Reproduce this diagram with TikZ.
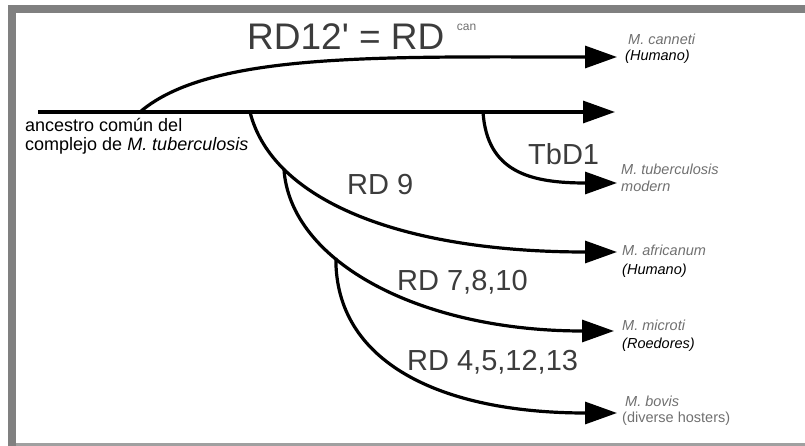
\documentclass[tikz,border=0pt]{standalone}
\usepackage{fontspec}
\setmainfont{Liberation Sans}
\usetikzlibrary{arrows.meta}
\definecolor{framegray}{RGB}{128,128,128}
\definecolor{framelight}{RGB}{160,160,160}
\definecolor{rdgray}{RGB}{60,60,60}
\definecolor{spgray}{RGB}{112,112,112}

\begin{document}
\begin{tikzpicture}[x=1pt,y=-1pt,
  lineage/.style={line width=3.2pt,-{Triangle[length=32pt,width=22pt]}},
  rdlabel/.style={font=\fontsize{29}{29}\selectfont,text=rdgray,inner sep=0pt,anchor=base west},
  species/.style={font=\fontsize{14.5}{17}\selectfont\itshape,text=spgray,inner sep=0pt,anchor=base west},
  host/.style={font=\fontsize{14.5}{17}\selectfont\itshape,inner sep=0pt,anchor=base west}]
  \useasboundingbox (0,0) rectangle (805,446);
  % Branch points and arrow tips
  \coordinate (root) at (38,112);
  \coordinate (forkcan) at (140,112);
  \coordinate (fork9) at (250,112);
  \coordinate (forktb) at (483,112);
  \coordinate (tipmain) at (615,112);
  \coordinate (tipcan) at (617,57);
  \coordinate (tiptb) at (617,183);
  \coordinate (tipafr) at (617,252);
  \coordinate (tipmic) at (614,331);
  \coordinate (tipbov) at (617,413);
  % Main lineage and its branches
  \draw[lineage] (root) -- (tipmain);
  \draw[lineage] (forkcan) .. controls (210,52) and (380,57) .. (tipcan);
  \draw[lineage] (forktb) .. controls (487,172) and (530,183) .. (tiptb);
  \draw[lineage] (fork9) .. controls (272,200) and (400,252) .. coordinate[pos=0.24] (fork7) (tipafr);
  \draw[lineage] (fork7) .. controls (290,262) and (420,331) .. coordinate[pos=0.36] (fork4) (tipmic);
  \draw[lineage] (fork4) .. controls (335,362) and (440,413) .. (tipbov);
  % Deletion labels
  \node[rdlabel,font=\fontsize{37}{37}\selectfont] (rdcan) at (247,50) {RD12\textquotesingle{} = RD};
  \node[font=\fontsize{12}{12}\selectfont,text=spgray,inner sep=0pt,anchor=base west] (rdcansup) at ([xshift=12pt,yshift=-7pt]rdcan.north east) {can};
  \node[rdlabel] (tbd) at (528,165) {TbD1};
  \node[rdlabel] (rdnine) at (347,195) {RD 9};
  \node[rdlabel] (rdseven) at (397,290) {RD 7,8,10};
  \node[rdlabel] (rdfour) at (407,370) {RD 4,5,12,13};
  % Ancestor
  \node[font=\fontsize{18}{19}\selectfont,inner sep=0pt,anchor=north west,align=left] (ancestor) at (25,118)
    {ancestro común del\\complejo de \textit{M. tuberculosis}};
  % Species and hosts
  \node[species] (canneti) at (628,45) {M. canneti};
  \node[host] (cannetihost) at (625,61) {(Humano)};
  \node[species] (tuber) at (621,175) {M. tuberculosis};
  \node[species] (tuberhost) at (621,192) {modern};
  \node[species] (africanum) at (622,255) {M. africanum};
  \node[host] (africanumhost) at (622,274) {(Humano)};
  \node[species] (microti) at (622,330) {M. microti};
  \node[host] (microtihost) at (622,348) {(Roedores)};
  \node[species] (bovis) at (625,406) {M. bovis};
  \node[species,font=\fontsize{14.5}{17}\selectfont] (bovishost) at (622,422) {(diverse hosters)};
  % Frame
  \fill[framegray] (8,5) rectangle (805,13);
  \fill[framegray] (8,5) rectangle (16,446);
  \fill[framelight] (16,443) rectangle (805,446);
\end{tikzpicture}
\end{document}
